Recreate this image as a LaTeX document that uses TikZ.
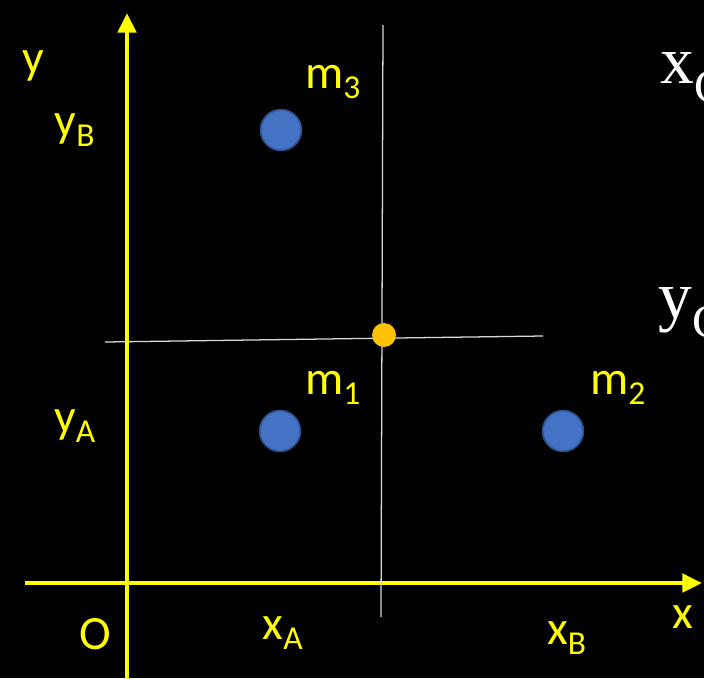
\documentclass[tikz,border=0pt]{standalone}
\usepackage{fontspec}
\setmainfont{Carlito}
\newfontfamily\serifc{Liberation Serif}
\usetikzlibrary{arrows.meta}
\definecolor{axisyellow}{RGB}{255,255,0}
\definecolor{massblue}{RGB}{68,114,196}
\definecolor{massedge}{RGB}{47,82,143}
\definecolor{cmorange}{RGB}{255,192,0}
\tikzset{
  axis/.style={axisyellow,line width=2.8pt,-{Triangle[length=14pt,width=13pt]}},
  guide/.style={white!85!black,line width=0.9pt},
  mass/.style={circle,fill=massblue,draw=massedge,line width=1.2pt,minimum size=29pt,inner sep=0pt},
  lbl/.style={text=axisyellow,font=\fontsize{34}{40}\selectfont,inner sep=0pt},
  cmdot/.style={circle,fill=cmorange,minimum size=17pt,inner sep=0pt},
  big/.style={text=white,font=\serifc\fontsize{48}{56}\selectfont,inner sep=0pt,anchor=west}
}
\begin{document}
\begin{tikzpicture}[x=0.025cm,y=-0.025cm]
  \fill[black] (0,0) rectangle (704,678);
  \clip (0,0) rectangle (704,678);
  % axes
  \coordinate (xs) at (25,583);
  \coordinate (xe) at (702,583);
  \coordinate (ys) at (127,680);
  \coordinate (ye) at (127,13);
  \draw[axis] (xs) -- (xe);
  \draw[axis] (ys) -- (ye);
  % lines through the centre of mass
  \coordinate (vt) at (383,25);
  \coordinate (vb) at (381,617);
  \coordinate (hl) at (105,342);
  \coordinate (hr) at (543,336);
  \draw[guide] (vt) -- (vb);
  \draw[guide] (hl) -- (hr);
  \node[cmdot] (c) at (384,335) {};
  % masses
  \node[mass] (m3) at (281,130) {};
  \node[mass] (m1) at (280,431) {};
  \node[mass] (m2) at (563,431) {};
  \node[lbl] (lm3) at (333,82) {m\textsubscript{3}};
  \node[lbl] (lm1) at (333,388) {m\textsubscript{1}};
  \node[lbl] (lm2) at (618,388) {m\textsubscript{2}};
  % axis labels
  \node[lbl] (ly) at (33,66) {y};
  \node[lbl] (lyb) at (75,130) {y\textsubscript{B}};
  \node[lbl] (lya) at (75,426) {y\textsubscript{A}};
  \node[lbl] (lo) at (95,634) {O};
  \node[lbl] (lxa) at (283,633) {x\textsubscript{A}};
  \node[lbl] (lxb) at (567,638) {x\textsubscript{B}};
  \node[lbl] (lx) at (683,617) {x};
  % centre of mass formulas
  \node[big] (xc) at (660,78) {x\textsubscript{C}};
  \node[big] (yc) at (658,313) {y\textsubscript{C}};
\end{tikzpicture}
\end{document}
